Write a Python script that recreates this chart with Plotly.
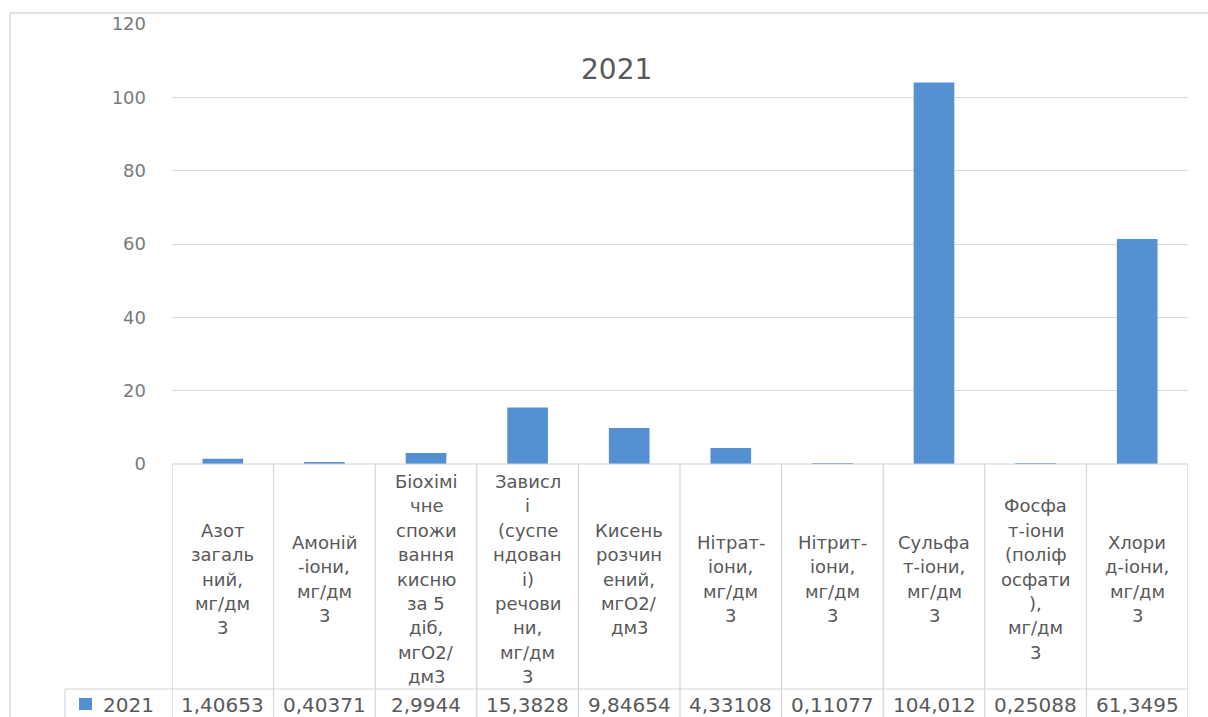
import plotly.graph_objects as go

# --- data -------------------------------------------------------------------
series_name = "2021"
categories = [
    "Азот загальний, мг/дм3",
    "Амоній-іони, мг/дм3",
    "Біохімічне споживання кисню за 5 діб, мгО2/дм3",
    "Завислі (суспендовані) речовини, мг/дм3",
    "Кисень розчинений, мгО2/дм3",
    "Нітрат-іони, мг/дм3",
    "Нітрит-іони, мг/дм3",
    "Сульфат-іони, мг/дм3",
    "Фосфат-іони (поліфосфати), мг/дм3",
    "Хлорид-іони, мг/дм3",
]
# wrapped header text of the data table, one list of lines per category
header_lines = [
    ["Азот", "загаль", "ний,", "мг/дм", "3"],
    ["Амоній", "-іони,", "мг/дм", "3"],
    ["Біохімі", "чне", "спожи", "вання", "кисню", "за 5", "діб,", "мгО2/", "дм3"],
    ["Зависл", "і", "(суспе", "ндован", "і)", "речови", "ни,", "мг/дм", "3"],
    ["Кисень", "розчин", "ений,", "мгО2/", "дм3"],
    ["Нітрат-", "іони,", "мг/дм", "3"],
    ["Нітрит-", "іони,", "мг/дм", "3"],
    ["Сульфа", "т-іони,", "мг/дм", "3"],
    ["Фосфа", "т-іони", "(поліф", "осфати", "),", "мг/дм", "3"],
    ["Хлори", "д-іони,", "мг/дм", "3"],
]
values = [1.40653, 0.40371, 2.9944, 15.3828, 9.84654, 4.33108, 0.11077, 104.012, 0.25088, 61.3495]
y_ticks = [0, 20, 40, 60, 80, 100, 120]

# --- layout geometry (pixels) -------------------------------------------------
W, H = 1208, 717
PL, PR, PT, PB = 172, 20, 24, 253          # plot area 172..1188 x 24..464
PW, PH = W - PL - PR, H - PT - PB
AX_Y = PT + PH                               # y pixel of the zero line


def px_x(px):
    return (px - PL) / PW


def px_y(py):
    return (AX_Y - py) / PH


BAR = "#5590d2"
GRID = "#d9d9d9"
LINE = "#d4d4d4"
TXT = "#595959"
FONT = "DejaVu Sans"

fig = go.Figure(
    go.Bar(
        x=categories,
        y=values,
        name=series_name,
        marker=dict(color=BAR, line=dict(width=0)),
        showlegend=False,
    )
)

shapes = []
annotations = []

# outer chart border (left and top)
shapes.append(dict(type="line", xref="paper", yref="paper",
                   x0=px_x(10), x1=px_x(W + 5), y0=px_y(13), y1=px_y(13),
                   line=dict(color=GRID, width=1.5)))
shapes.append(dict(type="line", xref="paper", yref="paper",
                   x0=px_x(10), x1=px_x(10), y0=px_y(13), y1=px_y(H + 5),
                   line=dict(color=GRID, width=1.5)))

# data table: top line, column separators, data-row line
shapes.append(dict(type="line", xref="x", yref="paper",
                   x0=-0.5, x1=len(categories) - 0.5, y0=0, y1=0,
                   line=dict(color=LINE, width=1.2)))
for i in range(len(categories) + 1):
    shapes.append(dict(type="line", xref="x", yref="paper",
                       x0=i - 0.5, x1=i - 0.5, y0=0, y1=px_y(H + 5),
                       line=dict(color=LINE, width=1.2)))
shapes.append(dict(type="line", xref="paper", yref="paper",
                   x0=px_x(65), x1=1, y0=px_y(689), y1=px_y(689),
                   line=dict(color=LINE, width=1.2)))
shapes.append(dict(type="line", xref="paper", yref="paper",
                   x0=px_x(65), x1=px_x(65), y0=px_y(689), y1=px_y(H + 5),
                   line=dict(color=LINE, width=1.2)))

# legend key inside the data row
shapes.append(dict(type="rect", xref="paper", yref="paper",
                   x0=px_x(79), x1=px_x(92), y0=px_y(710), y1=px_y(698),
                   fillcolor=BAR, line=dict(width=0)))
annotations.append(dict(text=series_name, xref="paper", yref="paper",
                        x=px_x(101), y=px_y(705), xanchor="left", yanchor="middle",
                        showarrow=False, font=dict(family=FONT, size=20, color=TXT)))

# header cells: wrapped category names, vertically centred in the cell
HEADER_MID = 579
LINE_STEP = 24.4
for cat, lines in zip(categories, header_lines):
    n = len(lines)
    for k, line in enumerate(lines):
        py = HEADER_MID + (k - (n - 1) / 2) * LINE_STEP
        annotations.append(dict(text=line, xref="x", yref="paper",
                                x=cat, y=px_y(py), xanchor="center", yanchor="middle",
                                showarrow=False,
                                font=dict(family=FONT, size=18, color=TXT)))

# data row: the series values, decimal comma
for cat, v in zip(categories, values):
    annotations.append(dict(text=str(v).replace(".", ","), xref="x", yref="paper",
                            x=cat, y=px_y(705), xanchor="center", yanchor="middle",
                            showarrow=False,
                            font=dict(family=FONT, size=20, color=TXT)))

# chart title
annotations.append(dict(text=series_name, xref="paper", yref="paper",
                        x=px_x(616), y=px_y(69), xanchor="center", yanchor="middle",
                        showarrow=False, font=dict(family=FONT, size=28, color=TXT)))

fig.update_layout(
    width=W,
    height=H,
    margin=dict(l=PL, r=PR, t=PT, b=PB, pad=0),
    paper_bgcolor="white",
    plot_bgcolor="white",
    bargap=0.6,
    shapes=shapes,
    annotations=annotations,
    xaxis=dict(
        type="category",
        range=[-0.5, len(categories) - 0.5],
        showticklabels=False,
        showgrid=False,
        showline=False,
        zeroline=False,
        ticks="",
        fixedrange=True,
    ),
    yaxis=dict(
        range=[0, 120],
        tickvals=y_ticks,
        ticktext=[str(t) for t in y_ticks],
        showgrid=True,
        gridcolor=GRID,
        gridwidth=1.2,
        zeroline=False,
        showline=False,
        ticks="",
        ticklabelstandoff=25,
        tickfont=dict(family=FONT, size=18, color="#7a7a7a"),
        fixedrange=True,
    ),
)

fig.write_html("out.html")
